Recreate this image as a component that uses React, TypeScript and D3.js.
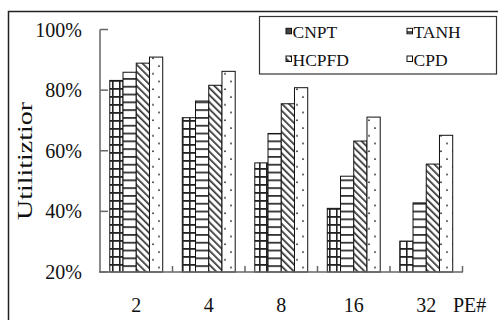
import { useRef, useEffect } from "react";
import * as d3 from "d3";

const categories = ["2", "4", "8", "16", "32"];
const seriesNames = ["CNPT", "TANH", "HCPFD", "CPD"];
const cnpt = [83.2, 70.9, 56, 41, 30.2];
const tanh = [85.9, 76.4, 65.7, 51.6, 42.8];
const hcpfd = [88.9, 81.6, 75.5, 63.2, 55.6];
const cpd = [90.9, 86.2, 80.8, 71.1, 65.1];
const yTicks = [20, 40, 60, 80, 100];

const W = 498;
const H = 320;
const FONT = '"Liberation Serif", "Times New Roman", Times, serif';

export default function App() {
  const svgRef = useRef<SVGSVGElement>(null);

  useEffect(() => {
    if (!svgRef.current) return;
    const svg = d3.select(svgRef.current);
    svg.selectAll("*").remove();

    const values = [cnpt, tanh, hcpfd, cpd];
    const patIds = ["p-cnpt", "p-tanh", "p-hcpfd", "p-cpd"];

    // patterns
    const defs = svg.append("defs");
    const pg = defs
      .append("pattern")
      .attr("id", "p-cnpt")
      .attr("patternUnits", "userSpaceOnUse")
      .attr("width", 7)
      .attr("height", 8);
    pg.append("rect").attr("width", 7).attr("height", 8).attr("fill", "#fff");
    pg.append("rect").attr("width", 7).attr("height", 1.8).attr("fill", "#222");
    pg.append("rect").attr("width", 1.6).attr("height", 8).attr("fill", "#222");

    const pt = defs
      .append("pattern")
      .attr("id", "p-tanh")
      .attr("patternUnits", "userSpaceOnUse")
      .attr("width", 8)
      .attr("height", 7.8);
    pt.append("rect").attr("width", 8).attr("height", 7.8).attr("fill", "#fff");
    pt.append("rect").attr("width", 8).attr("height", 1.8).attr("fill", "#333");

    const ph = defs
      .append("pattern")
      .attr("id", "p-hcpfd")
      .attr("patternUnits", "userSpaceOnUse")
      .attr("width", 5)
      .attr("height", 5)
      .attr("patternTransform", "rotate(-45)");
    ph.append("rect").attr("width", 5).attr("height", 5).attr("fill", "#fff");
    ph.append("rect").attr("width", 1.7).attr("height", 5).attr("fill", "#333");

    const pd = defs
      .append("pattern")
      .attr("id", "p-cpd")
      .attr("patternUnits", "userSpaceOnUse")
      .attr("width", 12)
      .attr("height", 15.5);
    pd.append("rect").attr("width", 12).attr("height", 15.5).attr("fill", "#fff");
    pd.append("circle").attr("cx", 3).attr("cy", 4).attr("r", 0.9).attr("fill", "#222");
    pd.append("circle").attr("cx", 9).attr("cy", 11.75).attr("r", 0.9).attr("fill", "#222");

    // outer frame
    svg
      .append("rect")
      .attr("x", 8.5)
      .attr("y", 11.5)
      .attr("width", W)
      .attr("height", H)
      .attr("fill", "#fff")
      .attr("stroke", "#222")
      .attr("stroke-width", 1.5);

    const x = d3
      .scaleBand()
      .domain(categories)
      .range([100, 462.5])
      .paddingInner(0.27)
      .paddingOuter(0.135);
    const xs = d3.scaleBand().domain(seriesNames).range([0, x.bandwidth()]);
    const y = d3.scaleLinear().domain([20, 100]).range([272, 29.5]);

    // bars
    seriesNames.forEach((name, si) => {
      svg
        .append("g")
        .selectAll("rect")
        .data(values[si])
        .join("rect")
        .attr("x", (_, i) => (x(categories[i]) ?? 0) + (xs(name) ?? 0))
        .attr("y", (d) => y(d))
        .attr("width", xs.bandwidth())
        .attr("height", (d) => y(20) - y(d))
        .attr("fill", `url(#${patIds[si]})`)
        .attr("stroke", "#111")
        .attr("stroke-width", 1);
    });

    // y axis
    const axisColor = "#666";
    svg
      .append("line")
      .attr("x1", 100)
      .attr("x2", 100)
      .attr("y1", y(100))
      .attr("y2", y(20))
      .attr("stroke", axisColor)
      .attr("stroke-width", 1.5);
    svg
      .append("g")
      .selectAll("line")
      .data(yTicks)
      .join("line")
      .attr("x1", 100)
      .attr("x2", 108)
      .attr("y1", (d) => y(d))
      .attr("y2", (d) => y(d))
      .attr("stroke", axisColor)
      .attr("stroke-width", 1.5);
    svg
      .append("g")
      .selectAll("text")
      .data(yTicks)
      .join("text")
      .attr("x", 82)
      .attr("y", (d) => y(d))
      .attr("dy", 7)
      .attr("text-anchor", "end")
      .style("font-family", FONT)
      .style("font-size", "20px")
      .attr("fill", "#111")
      .text((d) => `${d}%`);

    // x axis
    svg
      .append("line")
      .attr("x1", 99)
      .attr("x2", 463)
      .attr("y1", y(20))
      .attr("y2", y(20))
      .attr("stroke", axisColor)
      .attr("stroke-width", 1.5);
    const boundary = (d: string) =>
      (x(d) ?? 0) + x.bandwidth() + (x.step() - x.bandwidth()) / 2;
    svg
      .append("g")
      .selectAll("line")
      .data(categories)
      .join("line")
      .attr("x1", boundary)
      .attr("x2", boundary)
      .attr("y1", y(20))
      .attr("y2", y(20) - 6)
      .attr("stroke", axisColor)
      .attr("stroke-width", 1.5);
    svg
      .append("g")
      .selectAll("text")
      .data(categories)
      .join("text")
      .attr("x", (d) => (x(d) ?? 0) + x.bandwidth() / 2)
      .attr("y", 312)
      .attr("text-anchor", "middle")
      .style("font-family", FONT)
      .style("font-size", "20px")
      .attr("fill", "#111")
      .text((d) => d);
    svg
      .append("text")
      .attr("x", 453)
      .attr("y", 312)
      .style("font-family", FONT)
      .style("font-size", "20px")
      .attr("fill", "#111")
      .text("PE#");

    // y title
    svg
      .append("text")
      .attr("transform", "translate(32,161) rotate(-90)")
      .attr("text-anchor", "middle")
      .style("font-family", FONT)
      .style("font-size", "20px")
      .attr("textLength", 118)
      .attr("lengthAdjust", "spacingAndGlyphs")
      .attr("fill", "#111")
      .text("Utilitiztior");

    // legend
    svg
      .append("rect")
      .attr("x", 259.5)
      .attr("y", 16.5)
      .attr("width", 237)
      .attr("height", 57.5)
      .attr("fill", "#fff")
      .attr("stroke", "#333")
      .attr("stroke-width", 1.2);
    const legPos = [
      [286, 38.3],
      [407, 38.3],
      [286, 66],
      [407, 66],
    ];
    seriesNames.forEach((name, si) => {
      const [lx, ly] = legPos[si];
      svg
        .append("rect")
        .attr("x", lx)
        .attr("y", ly - 10)
        .attr("width", 5.5)
        .attr("height", 5.5)
        .attr("fill", si === 0 ? "#444" : `url(#${patIds[si]})`)
        .attr("stroke", "#111")
        .attr("stroke-width", 1);
      svg
        .append("text")
        .attr("x", lx + 6.5)
        .attr("y", ly)
        .style("font-family", FONT)
        .style("font-size", "17.5px")
        .attr("fill", "#111")
        .text(name);
    });
  }, []);

  return (
    <svg
      ref={svgRef}
      width={W}
      height={H}
      viewBox={`0 0 ${W} ${H}`}
      style={{ position: "absolute", left: 0, top: 0, background: "#fff" }}
    />
  );
}
